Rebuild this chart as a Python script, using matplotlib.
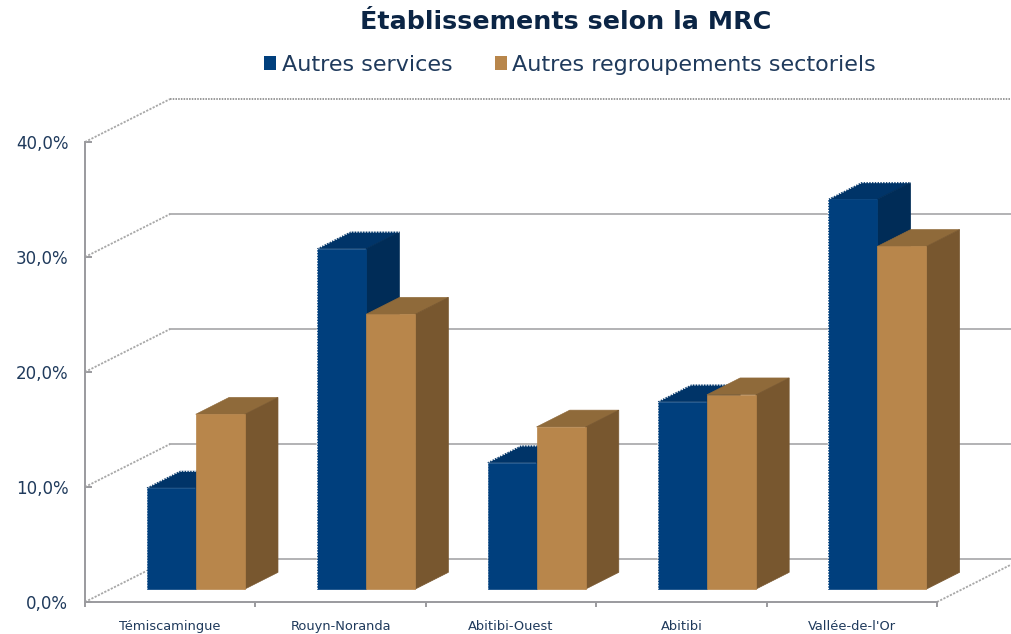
import matplotlib
matplotlib.use("Agg")
import matplotlib.pyplot as plt
from matplotlib.patches import Polygon, Patch

categories = ["Témiscamingue", "Rouyn-Noranda", "Abitibi-Ouest", "Abitibi", "Vallée-de-l'Or"]
autres_services = [8.8, 29.6, 11.0, 16.3, 33.9]
autres_regroupements = [15.2, 23.9, 14.1, 16.9, 29.8]
y_ticks = [0, 10, 20, 30, 40]
y_labels = ["0,0%", "10,0%", "20,0%", "30,0%", "40,0%"]
series_names = ["Autres services", "Autres regroupements sectoriels"]
title = "Établissements selon la MRC"

FONT = "DejaVu Sans"
TXT = "#1F3A5C"
DX, DY = 0.5, 3.74     # full depth of the floor, in data units
D0, D1 = 0.30, 0.69    # depth of the bars' front and back faces
W = 0.2875

W_PX, H_PX = 1012, 634
fig = plt.figure(figsize=(W_PX / 100, H_PX / 100), dpi=100, facecolor="white")
ax = fig.add_axes([85 / W_PX, 32 / H_PX, 852 / W_PX, 460 / H_PX])
ax.set_xlim(0, len(categories))
ax.set_ylim(0, 40)
for s in ("top", "right"):
    ax.spines[s].set_visible(False)
for s in ("left", "bottom"):
    ax.spines[s].set_color("#9A9A9E")
    ax.spines[s].set_linewidth(1.4)


def proj(x, v, d):
    return x + d * DX, v + d * DY


# walls and floor
for v in y_ticks:
    x0, y0 = proj(0, v, 0)
    x1, y1 = proj(0, v, 1)
    x2, y2 = proj(len(categories) - 0.03, v, 1)
    ax.plot([x0, x1], [y0, y1], color="#A8A8A8", lw=1.3, ls=(0, (1.2, 0.8)), clip_on=False, zorder=1)
    if v != 40:
        ax.plot([x1, x2], [y1, y2], color="#A6A6A8", lw=1.2, clip_on=False, zorder=1)
    else:
        ax.plot([x1, x2], [y1, y2], color="#9A9A9A", lw=1.4, ls=(0, (0.8, 0.6)), clip_on=False, zorder=1)
xe0, ye0 = proj(len(categories), 0, 0)
xe1, ye1 = proj(len(categories), 0, 0.93)
ax.plot([xe0, xe1], [ye0, ye1], color="#A8A8A8", lw=1.3, ls=(0, (1.2, 0.8)), clip_on=False, zorder=1)


def bar3d(xl, v, front, top, side, dotted, z):
    xr = xl + W
    pts_side = [proj(xr, 0, D0), proj(xr, 0, D1), proj(xr, v, D1), proj(xr, v, D0)]
    pts_top = [proj(xl, v, D0), proj(xr, v, D0), proj(xr, v, D1), proj(xl, v, D1)]
    pts_front = [proj(xl, 0, D0), proj(xr, 0, D0), proj(xr, v, D0), proj(xl, v, D0)]
    for pts, c in ((pts_top, top), (pts_side, side), (pts_front, front)):
        ax.add_patch(Polygon(pts, closed=True, facecolor=c, edgecolor=c, lw=0.5, zorder=z, clip_on=False))
    if dotted:
        outline = [pts_front[0], pts_front[3], pts_top[3], pts_top[2], pts_side[2]]
        xs, ys = zip(*outline)
        ax.plot(xs, ys, color="white", lw=1.0, ls=(0, (1, 1)), zorder=z + 0.5, clip_on=False)


for i in range(len(categories)):
    c = i + 0.5
    bar3d(c - W, autres_services[i], "#003F7D", "#003468", "#002C57", True, 3 + 2 * i)
    bar3d(c, autres_regroupements[i], "#B8864B", "#8F6A3A", "#78572F", False, 4 + 2 * i)

# axes ticks and labels
ax.set_yticks(y_ticks)
ax.set_yticklabels(y_labels, family=FONT, fontsize=12, color=TXT)
ax.tick_params(axis="y", direction="in", length=5, width=1.4, color="#9A9A9E", pad=12)
ax.set_xticks(range(len(categories) + 1))
ax.set_xticklabels([])
ax.tick_params(axis="x", direction="out", length=3.5, width=1.4, color="#9A9A9E")
ax.set_xticks([i + 0.5 for i in range(len(categories))], minor=True)
ax.set_xticklabels(categories, minor=True, family=FONT, fontsize=9.4, color=TXT)
ax.tick_params(axis="x", which="minor", length=0, pad=13)
ax.set_axisbelow(True)

fig.text(566 / W_PX, 1 - 22 / H_PX, title, family=FONT, fontsize=18.3, fontweight="bold",
         color="#0B2545", ha="center", va="center")

handles = [Patch(facecolor="#003F7D", label=series_names[0]),
           Patch(facecolor="#B8864B", label=series_names[1])]
fig.legend(handles=handles, loc="center", bbox_to_anchor=(570 / W_PX, 1 - 65 / H_PX), ncol=2, frameon=False,
           prop={"family": FONT, "size": 16}, labelcolor=TXT, handlelength=0.55, handleheight=0.55,
           handletextpad=0.25, columnspacing=1.9, borderpad=0)

fig.savefig("out.png", dpi=100, facecolor="white")
